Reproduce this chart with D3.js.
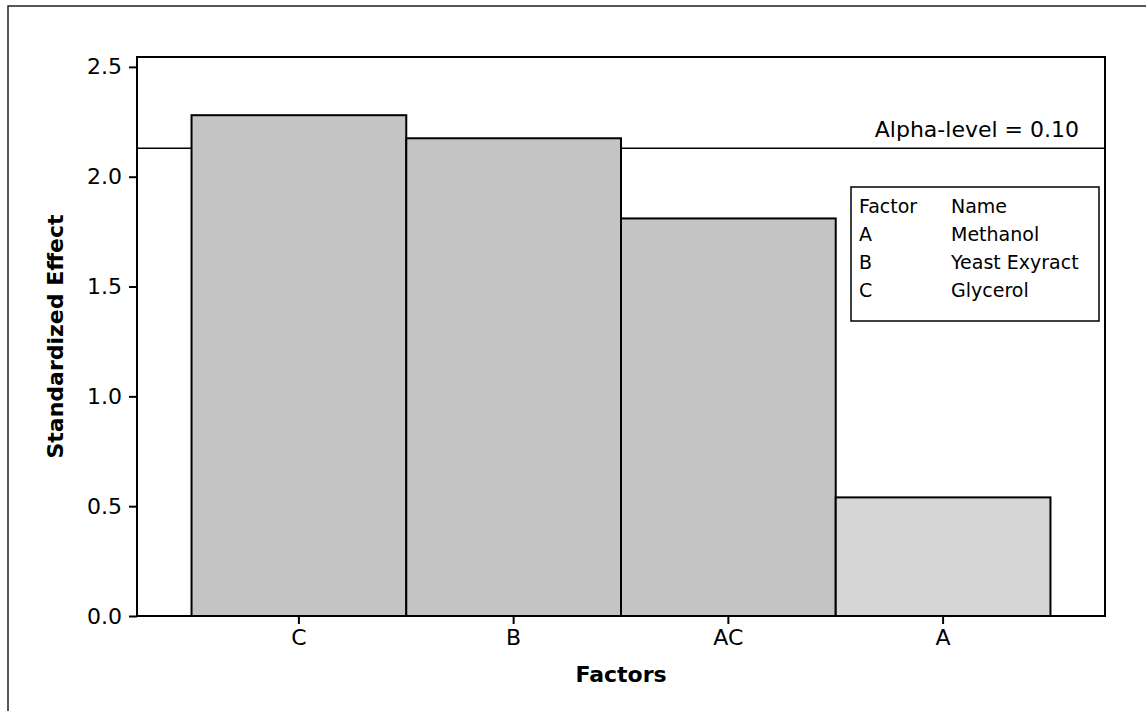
<!DOCTYPE html>
<html>
<head>
<meta charset="utf-8">
<script src="https://cdn.jsdelivr.net/npm/d3@7"></script>
<style>
  body { margin: 0; background: #fff; }
  text { font-family: "DejaVu Sans", Verdana, sans-serif; fill: #000; }
</style>
</head>
<body>
<div id="chart"></div>
<script>
// chart data
const factors = ['C', 'B', 'AC', 'A'];
const effects = [2.28, 2.175, 1.81, 0.54];
const yTicks = [0.0, 0.5, 1.0, 1.5, 2.0, 2.5];
const alphaLevel = 2.13;
const alphaLabel = 'Alpha-level = 0.10';
const legendFactors = ['A', 'B', 'C'];
const legendNames = ['Methanol', 'Yeast Exyract', 'Glycerol'];

const width = 1146, height = 711;
const margin = {top: 57, right: 41, bottom: 95, left: 137};

const svg = d3.select('#chart').append('svg')
    .attr('width', width)
    .attr('height', height);

// outer frame (only top and left edges visible)
svg.append('rect')
    .attr('x', 8).attr('y', 6)
    .attr('width', 1300).attr('height', 900)
    .attr('fill', 'none')
    .attr('stroke', '#222')
    .attr('stroke-width', 1.5);

const plotW = width - margin.left - margin.right;
const plotH = height - margin.top - margin.bottom;

const g = svg.append('g')
    .attr('transform', 'translate(' + margin.left + ',' + margin.top + ')');

const xScale = d3.scaleBand()
    .domain(factors)
    .range([0, plotW])
    .paddingInner(0)
    .paddingOuter(0.254);

const yScale = d3.scaleLinear()
    .domain([0, 2.545])
    .range([plotH, 0]);

// reference line
g.append('line')
    .attr('x1', 0).attr('x2', plotW)
    .attr('y1', yScale(alphaLevel)).attr('y2', yScale(alphaLevel))
    .attr('stroke', '#000')
    .attr('stroke-width', 1.5);

// bars
g.selectAll('.bar')
    .data(factors)
    .enter()
    .append('rect')
    .attr('class', 'bar')
    .attr('x', d => xScale(d))
    .attr('y', (d, i) => yScale(effects[i]))
    .attr('width', xScale.bandwidth())
    .attr('height', (d, i) => plotH - yScale(effects[i]))
    .attr('fill', (d, i) => i === 3 ? '#d6d6d6' : '#c4c4c4')
    .attr('stroke', '#000')
    .attr('stroke-width', 2);

// plot frame
g.append('rect')
    .attr('width', plotW).attr('height', plotH)
    .attr('fill', 'none')
    .attr('stroke', '#000')
    .attr('stroke-width', 2);

// axes
const yAxis = g.append('g')
    .call(d3.axisLeft(yScale).tickValues(yTicks).tickFormat(d3.format('.1f')).tickSize(8).tickPadding(7));
const xAxis = g.append('g')
    .attr('transform', 'translate(0,' + plotH + ')')
    .call(d3.axisBottom(xScale).tickSize(8).tickPadding(5));

[yAxis, xAxis].forEach(a => {
    a.select('.domain').remove();
    a.selectAll('line').attr('stroke', '#000').attr('stroke-width', 2);
    a.selectAll('text').attr('font-size', 22).attr('font-family', '"DejaVu Sans", sans-serif').attr('fill', '#000');
});

// alpha text
g.append('text')
    .attr('x', 942).attr('y', 80)
    .attr('text-anchor', 'end')
    .attr('font-size', 22)
    .text(alphaLabel);

// legend
const legend = svg.append('g').attr('transform', 'translate(851,187)');
legend.append('rect')
    .attr('width', 248).attr('height', 134)
    .attr('fill', '#fff')
    .attr('stroke', '#000')
    .attr('stroke-width', 1.5);
const rows = [['Factor', 'Name']].concat(legendFactors.map((f, i) => [f, legendNames[i]]));
rows.forEach((r, i) => {
    legend.append('text').attr('x', 8).attr('y', 26 + i * 28).attr('font-size', 19).text(r[0]);
    legend.append('text').attr('x', 100).attr('y', 26 + i * 28).attr('font-size', 19).text(r[1]);
});

// axis titles
svg.append('text')
    .attr('x', margin.left + plotW / 2).attr('y', 682)
    .attr('text-anchor', 'middle')
    .attr('font-size', 22).attr('font-weight', 'bold')
    .text('Factors');

svg.append('text')
    .attr('transform', 'translate(63,' + (margin.top + plotH / 2) + ') rotate(-90)')
    .attr('text-anchor', 'middle')
    .attr('font-size', 22).attr('font-weight', 'bold')
    .text('Standardized Effect');
</script>
</body>
</html>
